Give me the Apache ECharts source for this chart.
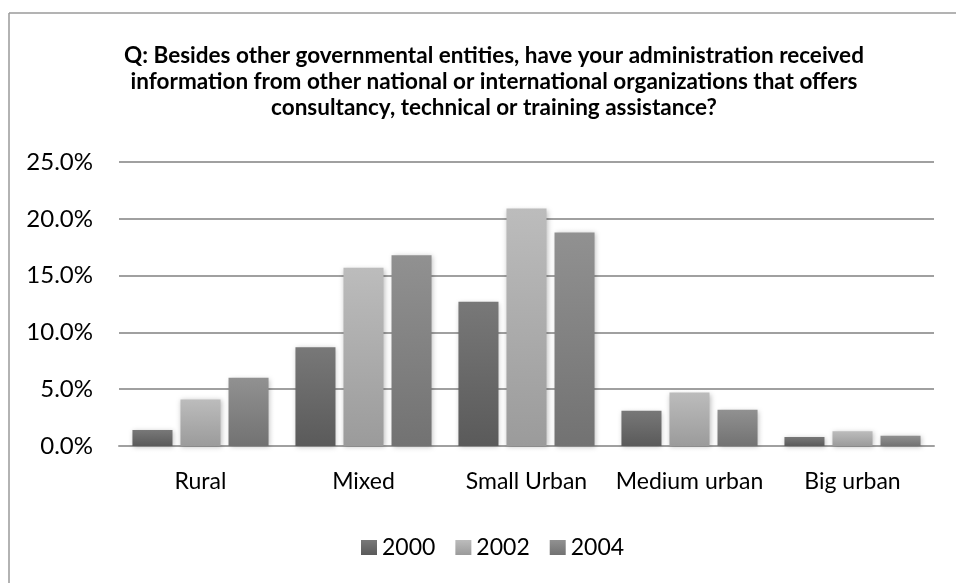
<!DOCTYPE html>
<html>
<head>
<meta charset="utf-8">
<script src="https://cdn.jsdelivr.net/npm/echarts@6/dist/echarts.min.js"></script>
<style>
  html, body { margin: 0; padding: 0; background: #fff; overflow: hidden; }
  #chart { width: 956px; height: 583px; }
</style>
</head>
<body>
<div id="chart"></div>
<script>
// Share of administrations (%) by municipality type and survey year
const categories = ['Rural', 'Mixed', 'Small Urban', 'Medium urban', 'Big urban'];
const years = ['2000', '2002', '2004'];
const values2000 = [1.4, 8.7, 12.7, 3.1, 0.8];
const values2002 = [4.1, 15.7, 20.9, 4.7, 1.3];
const values2004 = [6.0, 16.8, 18.8, 3.2, 0.9];
const yTicks = { min: 0, max: 25, interval: 5 };

const titleText = 'Q: Besides other governmental entities, have your administration received\n' +
  'information from other national or international organizations that offers\n' +
  'consultancy, technical or training assistance?';

const FONT = 'Lato';

function shade(top, bottom) {
  return new echarts.graphic.LinearGradient(0, 0, 0, 1, [
    { offset: 0, color: top },
    { offset: 1, color: bottom }
  ]);
}
const fills = [
  shade('#787878', '#5a5a5a'),
  shade('#bcbcbc', '#9b9b9b'),
  shade('#919191', '#727272')
];
const seriesValues = [values2000, values2002, values2004];

// chart frame: only the top and left edges fall inside the canvas
const frameStyle = { stroke: '#9a9a9a', lineWidth: 1.5 };

const chart = echarts.init(document.getElementById('chart'), null, { renderer: 'canvas' });
chart.setOption({
  backgroundColor: '#ffffff',
  animation: false,
  title: {
    text: titleText,
    left: 489,
    textAlign: 'center',
    top: 38,
    textStyle: {
      fontFamily: FONT,
      fontWeight: 'bold',
      fontSize: 22.5,
      lineHeight: 26,
      color: '#000'
    }
  },
  graphic: [
    { type: 'line', silent: true, shape: { x1: 9, y1: 13, x2: 956, y2: 13 }, style: frameStyle },
    { type: 'line', silent: true, shape: { x1: 9, y1: 13, x2: 9, y2: 583 }, style: frameStyle }
  ],
  legend: {
    data: years,
    left: 356,
    top: 531,
    itemWidth: 16,
    itemHeight: 15,
    itemGap: 20,
    icon: 'rect',
    textStyle: { fontFamily: FONT, fontSize: 23, color: '#000' }
  },
  grid: { left: 119, right: 22, top: 162, bottom: 137, containLabel: false },
  xAxis: {
    type: 'category',
    data: categories,
    axisTick: { show: false },
    axisLine: { lineStyle: { color: '#a0a0a0', width: 2 } },
    axisLabel: { fontFamily: FONT, fontSize: 23, color: '#000', margin: 24, interval: 0 }
  },
  yAxis: {
    type: 'value',
    min: yTicks.min,
    max: yTicks.max,
    interval: yTicks.interval,
    axisLine: { show: false },
    axisTick: { show: false },
    splitLine: { lineStyle: { color: '#a0a0a0', width: 2 } },
    axisLabel: {
      fontFamily: FONT, fontSize: 24, color: '#000', margin: 26,
      formatter: v => v.toFixed(1) + '%'
    }
  },
  series: years.map((y, i) => ({
    name: y,
    type: 'bar',
    data: seriesValues[i],
    barGap: '20%',
    barCategoryGap: '16.5%',
    itemStyle: {
      color: fills[i],
      shadowColor: 'rgba(0,0,0,0.25)',
      shadowBlur: 5,
      shadowOffsetX: 1,
      shadowOffsetY: 1
    }
  }))
});
</script>
</body>
</html>
